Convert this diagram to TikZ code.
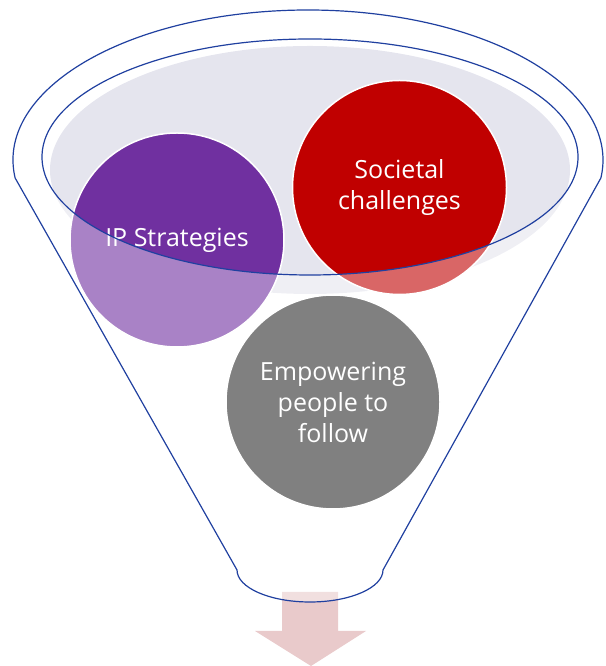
\documentclass[tikz,border=0pt]{standalone}
\usepackage{fontspec}
\setmainfont{Open Sans}
\usetikzlibrary{positioning}
\definecolor{funnelblue}{RGB}{32,64,160}
\definecolor{rimgrey}{RGB}{229,229,238}
\definecolor{ippurple}{RGB}{112,48,160}
\definecolor{socred}{RGB}{192,0,0}
\definecolor{empgrey}{RGB}{128,128,128}
\definecolor{arrowpink}{RGB}{233,202,203}

\begin{document}
\begin{tikzpicture}[
  x=1pt, y=1pt,
  bubble/.style={circle, draw=white, line width=1.5pt, minimum size=214pt, inner sep=0pt,
    text=white, align=center, font=\fontsize{25}{31}\selectfont},
  rim/.style={draw=funnelblue, line width=1.2pt},
  glass/.style={fill=white, fill opacity=0.4, even odd rule}
]
\useasboundingbox (0,0) rectangle (605,666);

% Grey top of the funnel
\fill[rimgrey] (310,496) ellipse [x radius=260, y radius=124];

% Outlet arrow
\fill[arrowpink] (282,74) -- (338,74) -- (338,35) -- (366,35) -- (311,0)
  -- (255,35) -- (282,35) -- cycle;

% Bubbles in the mouth
\node[bubble, fill=ippurple] (ip) at (177,426) {IP Strategies};
\node[bubble, fill=socred] (soc) at (399.5,478.5) {Societal\\challenges};

% Funnel body (translucent front) with the mouth left open
\fill[glass] ([shift={(308,506)}]186.9:295 and 150)
  arc[start angle=186.9, end angle=-6.9, x radius=295, y radius=150]
  -- (383,96) arc[start angle=0, end angle=-180, x radius=73, y radius=32] -- cycle
  (310,509) ellipse [x radius=268, y radius=118];

% Funnel outline
\draw[rim] ([shift={(308,506)}]186.9:295 and 150)
  arc[start angle=186.9, end angle=-6.9, x radius=295, y radius=150]
  -- (383,96) arc[start angle=0, end angle=-180, x radius=73, y radius=32] -- cycle;
\draw[rim] (310,509) ellipse [x radius=268, y radius=118];

% Bubble in front
\node[bubble, fill=empgrey] (emp) at (333,264) {Empowering\\people to\\follow};

\end{tikzpicture}
\end{document}
